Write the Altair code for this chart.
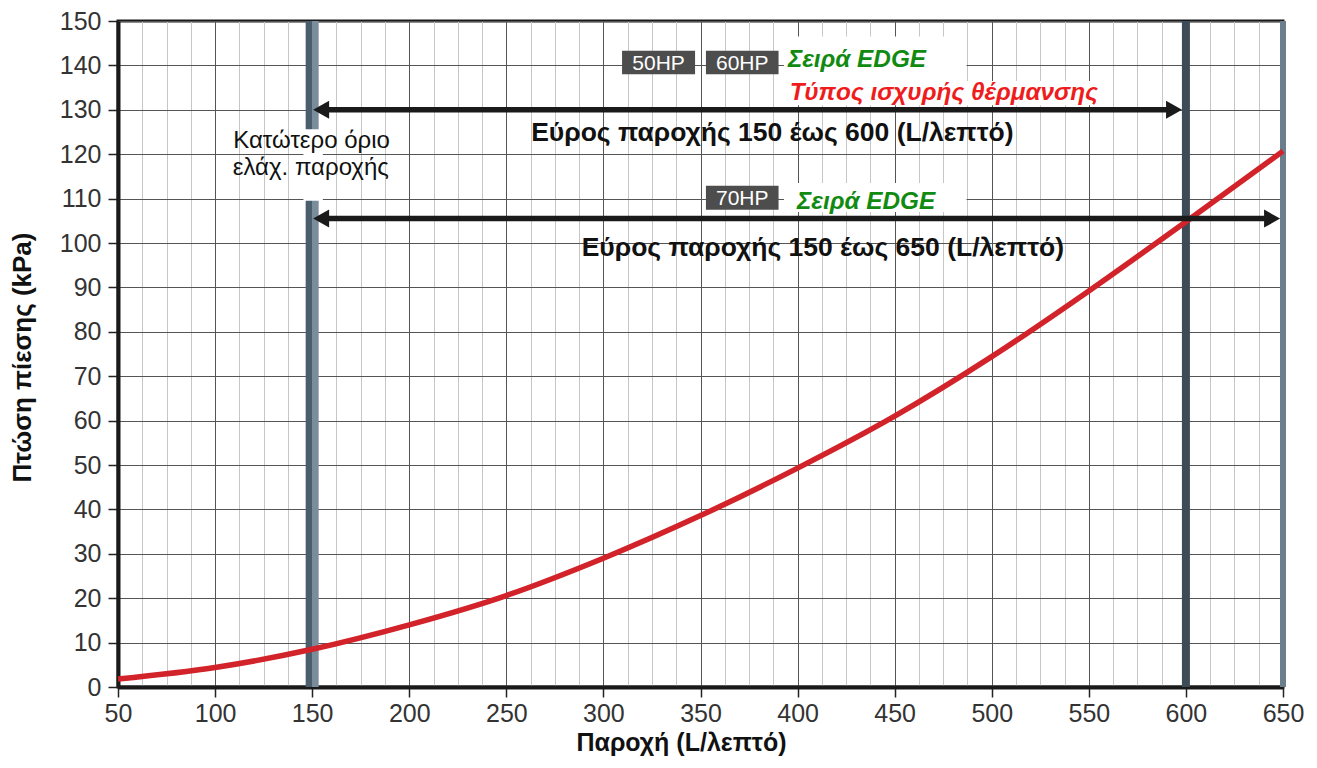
import altair as alt
import pandas as pd

# ---------------- data ----------------
flow = [50, 100, 150, 200, 250, 300, 350, 400, 450, 500, 550, 600, 650]
drop = [1.8, 4.4, 8.5, 14.0, 20.6, 29.0, 38.6, 49.3, 61.0, 74.4, 89.2, 104.8, 120.7]

x_grid = [50 + 12.5 * i for i in range(49)]
y_ticks = list(range(0, 151, 10))

limit_flow = [150]
range_end_a = [600]
range_end_b = [650]

arrow_y = [130, 105.5]
arrow_from = [150.5, 150.5]
arrow_to = [598, 648.5]

range_labels = ["Εύρος παροχής 150 έως 600 (L/λεπτό)", "Εύρος παροχής 150 έως 650 (L/λεπτό)"]
range_label_x = [387, 413]
range_label_y = [123.0, 97.0]

hp_labels = ["50HP", "60HP", "70HP"]
hp_x0 = [309.6, 352.8, 352.8]
hp_x1 = [347.2, 390.2, 390.2]
hp_y0 = [138.0, 138.0, 107.5]
hp_y1 = [143.3, 143.3, 112.9]

series_labels = ["Σειρά EDGE", "Σειρά EDGE"]
series_x = [395, 399.7]
series_y = [139.6, 107.7]

heat_label = ["Τύπος ισχυρής θέρμανσης"]
heat_x = [396]
heat_y = [132.3]

limit_text = ["Κατώτερο όριο", "ελάχ. παροχής"]
limit_text_x = [149.7, 149.3]
limit_text_y = [121.3, 115.3]

mask_x0 = [393, 393, 393, 145.5]
mask_x1 = [487, 556, 487, 155.5]
mask_y0 = [136.5, 131, 107, 109.5]
mask_y1 = [146.5, 136.5, 113.5, 125.6]

# ---------------- frames ----------------
curve_df = pd.DataFrame({"flow": flow, "drop": drop})
arrow_df = pd.DataFrame({"y": arrow_y, "x0": arrow_from, "x1": arrow_to})
range_df = pd.DataFrame({"t": range_labels, "x": range_label_x, "y": range_label_y})
hp_df = pd.DataFrame({"t": hp_labels, "x0": hp_x0, "x1": hp_x1, "y0": hp_y0, "y1": hp_y1})
series_df = pd.DataFrame({"t": series_labels, "x": series_x, "y": series_y})
heat_df = pd.DataFrame({"t": heat_label, "x": heat_x, "y": heat_y})
limit_df = pd.DataFrame({"t": limit_text, "x": limit_text_x, "y": limit_text_y})
mask_df = pd.DataFrame({"x0": mask_x0, "x1": mask_x1, "y0": mask_y0, "y1": mask_y1})

xs = alt.Scale(domain=[50, 650], nice=False, zero=False)
ys = alt.Scale(domain=[0, 150], nice=False, zero=False)

SANS = "'Liberation Sans', Arial, sans-serif"
PLOT_H = 666

x_axis = alt.Axis(
    values=x_grid,
    grid=True,
    gridColor={"condition": {"test": "datum.value % 50 === 0", "value": "#555555"}, "value": "#c6c6c6"},
    gridWidth=1,
    labelExpr="datum.value % 50 === 0 ? datum.label : ''",
    labelOverlap=False,
    labelFlush=False,
    labelBound=False,
    tickOpacity={"condition": {"test": "datum.value % 50 === 0", "value": 1}, "value": 0},
    tickSize=10,
    tickWidth=1.5,
    tickColor="#222222",
    domainColor="#1a1a1a",
    domainWidth=4,
    labelFont=SANS,
    labelFontSize=25,
    labelColor="#333333",
    labelPadding=4,
    title="Παροχή (L/λεπτό)",
    titleFont=SANS,
    titleFontSize=25,
    titleFontWeight="bold",
    titleColor="#111111",
    titlePadding=4,
    titleX=563,
    titleAlign="center",
)

y_axis = alt.Axis(
    values=y_ticks,
    grid=True,
    gridColor="#555555",
    gridWidth=1,
    labelOverlap=False,
    labelFlush=False,
    labelBound=False,
    tickSize=10,
    tickWidth=1.5,
    tickColor="#222222",
    domainColor="#1a1a1a",
    domainWidth=4,
    labelFont=SANS,
    labelFontSize=25,
    labelColor="#333333",
    labelPadding=7,
    title="Πτώση πίεσης (kPa)",
    titleFont=SANS,
    titleFontSize=26,
    titleFontWeight="bold",
    titleColor="#111111",
    titlePadding=24,
    titleY=336,
)


def X(f):
    return alt.X(f, type="quantitative", scale=xs, axis=x_axis)


def Y(f):
    return alt.Y(f, type="quantitative", scale=ys, axis=y_axis)


# ---------------- layers ----------------
curve = alt.Chart(curve_df).mark_line(color="#d2232a", strokeWidth=5.5, interpolate="monotone").encode(
    x=X("flow"), y=Y("drop")
)

masks_text = alt.Chart(mask_df.iloc[:3]).mark_rect(color="white").encode(
    x=X("x0"), x2="x1", y=Y("y0"), y2="y1"
)
mask_bar = alt.Chart(mask_df.iloc[3:]).mark_rect(color="white").encode(
    x=X("x0"), x2="x1", y=Y("y0"), y2="y1"
)

grad = alt.LinearGradient(
    gradient="linear",
    x1=0, x2=1, y1=0, y2=0,
    stops=[
        alt.GradientStop(color="#4a5e6d", offset=0),
        alt.GradientStop(color="#4a5e6d", offset=0.5),
        alt.GradientStop(color="#7a8d9b", offset=0.5),
        alt.GradientStop(color="#7a8d9b", offset=1),
    ],
)
bar150 = alt.Chart(pd.DataFrame({"x": limit_flow})).mark_tick(
    orient="vertical", thickness=13, size=PLOT_H, color=grad, opacity=1
).encode(x=X("x"), y=alt.YDatum(75, scale=ys, axis=y_axis))

bar600 = alt.Chart(pd.DataFrame({"x": range_end_a})).mark_rule(color="#3d4b56", strokeWidth=8).encode(
    x=X("x")
)
bar650 = alt.Chart(pd.DataFrame({"x": range_end_b})).mark_rule(color="#6b7e8c", strokeWidth=6).encode(
    x=X("x")
)

shaft = alt.Chart(arrow_df).transform_calculate(
    s0="datum.x0 + 4", s1="datum.x1 - 4"
).mark_rule(color="#1a1a1a", strokeWidth=5.5).encode(
    x=X("s0:Q"), x2="s1:Q", y=Y("y")
)
head_l = alt.Chart(arrow_df).mark_point(
    shape="M0,0L1.6,-0.9L1.6,0.9Z", filled=True, color="#1a1a1a", size=400, opacity=1, strokeWidth=0
).encode(x=X("x0"), y=Y("y"))
head_r = alt.Chart(arrow_df).mark_point(
    shape="M0,0L-1.6,-0.9L-1.6,0.9Z", filled=True, color="#1a1a1a", size=400, opacity=1, strokeWidth=0
).encode(x=X("x1"), y=Y("y"))

hp_box = alt.Chart(hp_df).mark_rect(color="#4d4d4d").encode(
    x=X("x0"), x2="x1", y=Y("y0"), y2="y1"
)
hp_txt = alt.Chart(hp_df).transform_calculate(
    cx="(datum.x0 + datum.x1) / 2", cy="(datum.y0 + datum.y1) / 2"
).mark_text(color="white", font=SANS, fontSize=21, baseline="middle", align="center", dy=1).encode(
    x=X("cx:Q"), y=Y("cy:Q"), text="t"
)

range_txt = alt.Chart(range_df).mark_text(
    color="#111111", font=SANS, fontSize=26.5, fontWeight="bold", align="center", baseline="alphabetic"
).encode(x=X("x"), y=Y("y"), text="t")

series_txt = alt.Chart(series_df).mark_text(
    color="#118a11", font=SANS, fontSize=24.3, fontWeight="bold", fontStyle="italic",
    align="left", baseline="alphabetic"
).encode(x=X("x"), y=Y("y"), text="t")

heat_txt = alt.Chart(heat_df).mark_text(
    color="#ee1c1c", font=SANS, fontSize=24.3, fontWeight="bold", fontStyle="italic",
    align="left", baseline="alphabetic"
).encode(x=X("x"), y=Y("y"), text="t")

limit_txt = alt.Chart(limit_df).mark_text(
    color="#111111", font=SANS, fontSize=24, align="center", baseline="alphabetic"
).encode(x=X("x"), y=Y("y"), text="t")

chart = alt.layer(
    masks_text, bar150, bar600, bar650, curve, mask_bar,
    shaft, head_l, head_r, hp_box, hp_txt, range_txt, series_txt, heat_txt, limit_txt
).properties(
    width=1165, height=PLOT_H,
    autosize=alt.AutoSizeParams(type="none"),
    padding={"left": 110, "top": 13, "right": 24, "bottom": 73},
    background="white",
).configure_view(stroke="#1a1a1a", strokeWidth=3)

chart.save("out.html", embed_options={"renderer": "svg", "actions": False})
